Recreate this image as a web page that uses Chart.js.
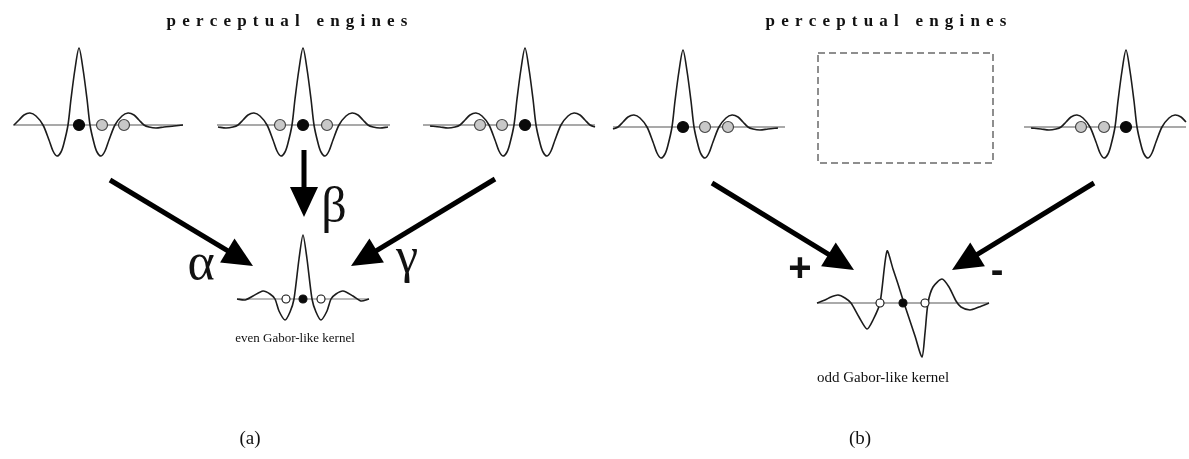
<!DOCTYPE html>
<html>
<head>
<meta charset="utf-8">
<style>
  html, body { margin: 0; padding: 0; background: #fff; overflow: hidden; }
  canvas { display: block; }
</style>
<script src="https://cdn.jsdelivr.net/npm/chart.js@4.4.1/dist/chart.umd.min.js"></script>
</head>
<body>
<canvas id="diagram" width="1189" height="459"></canvas>
<script>
// Response profile of one perceptual engine: offset from its peak, height above its baseline
const engineDx = [-104, -95, -85, -77, -70, -65, -60, -55, -49, -43, -36, -30, -26, -22, -18, -15, -11, -8, -4, 0, 4, 8, 11, 15, 18, 22, 26, 30, 36, 43, 49, 55, 60, 65, 70, 77, 85, 95, 104];
const engineDy = [0, -1, -2, -3, -2, 0, 5, 10, 12, 9, 0, -15, -26, -31, -27, -18, 0, 26, 56, 77, 56, 26, 0, -18, -27, -31, -26, -15, 0, 9, 12, 10, 5, 0, -2, -3, -2, -1, 0];

// Even Gabor-like kernel (alpha, beta, gamma combination)
const evenDx = [-66, -58, -50, -40, -33, -28, -24, -18, -13, -9, -4, 0, 4, 9, 13, 18, 24, 28, 33, 40, 50, 58, 66];
const evenDy = [0, -1, 3, 8, 5, 0, -12, -21, -13, 0, 40, 64, 40, 0, -13, -21, -12, 0, 5, 8, 3, -2, 0];

// Odd Gabor-like kernel (+ / - combination)
const oddDx = [-86, -78, -72, -65, -58, -52, -44, -36, -30, -23, -16, -10, -5, 0, 6, 12, 19, 22, 25, 30, 39, 46, 53, 58, 67, 76, 86];
const oddDy = [0, 3, 6, 8, 5, 0, -14, -26, -17, 0, 52, 34, 19, 3, -15, -33, -54, -30, 0, 16, 24, 16, 2, -4, -7, -4, 0];

// Where each engine sits and which part of its profile is shown
const engineX     = [79, 303, 525, 683, 1126];
const engineBaseY = [125, 125, 125, 127, 127];
const engineFrom  = [-66, -86, -102, -70, -102];
const engineTo    = [104, 87, 70, 102, 60];
// Sampling nodes of each engine (offset 0 is the engine's own, filled node)
const engineNodes = [[0, 23, 45], [-23, 0, 24], [-45, -23, 0], [0, 22, 45], [-45, -22, 0]];

// Combined kernels
const evenX = 303, evenBaseY = 299, evenNodes = [-17, 0, 18];
const oddX = 903, oddBaseY = 303, oddNodes = [-23, 0, 22];

// Empty (suppressed) engine slot in panel (b)
const emptySlot = { left: 818, top: 53, right: 993, bottom: 163 };

// Arrows: tail and tip
const arrowTail = [[110, 180], [304, 150], [495, 179], [712, 183], [1094, 183]];
const arrowTip  = [[253, 266], [304, 217], [351, 266], [854, 270], [952, 270]];
const headLen = 30, headHalf = 14;

const serif = '"Liberation Serif", "Times New Roman", serif';
const sans = '"Liberation Sans", Arial, sans-serif';
const textItems = [
  { text: 'perceptual engines', x: 287, y: 26, font: 'bold 17px ' + serif, spacing: 6.2 },
  { text: 'perceptual engines', x: 886, y: 26, font: 'bold 17px ' + serif, spacing: 6.2 },
  { text: 'α', x: 201, y: 279, font: '52px ' + serif },
  { text: 'β', x: 334, y: 222, font: '50px ' + serif },
  { text: 'γ', x: 407, y: 272, font: '50px ' + serif },
  { text: '+', x: 800, y: 281, font: 'bold 40px ' + sans },
  { text: '-', x: 997, y: 283, font: 'bold 38px ' + sans },
  { text: 'even Gabor-like kernel', x: 295, y: 342, font: '13px ' + serif },
  { text: 'odd Gabor-like kernel', x: 883, y: 382, font: '15px ' + serif },
  { text: '(a)', x: 250, y: 444, font: '19px ' + serif },
  { text: '(b)', x: 860, y: 444, font: '19px ' + serif }
];

function curve(dx, dy, cx, baseY, from, to) {
  const pts = [];
  for (let i = 0; i < dx.length; i++) {
    if (dx[i] >= from && dx[i] <= to) pts.push({ x: cx + dx[i], y: baseY - dy[i] });
  }
  return pts;
}

const datasets = [];

// Engines of both panels
engineX.forEach((cx, i) => {
  const by = engineBaseY[i];
  datasets.push({
    data: [{ x: cx + engineFrom[i], y: by }, { x: cx + engineTo[i], y: by }],
    showLine: true, borderColor: '#555', borderWidth: 1.2, pointRadius: 0, order: 3
  });
  datasets.push({
    data: curve(engineDx, engineDy, cx, by, engineFrom[i], engineTo[i]),
    showLine: true, borderColor: '#1c1c1c', borderWidth: 1.6, tension: 0.3, pointRadius: 0, order: 2
  });
  const nodes = engineNodes[i];
  datasets.push({
    data: nodes.map(o => ({ x: cx + o, y: by })),
    showLine: false,
    pointRadius: 5.5,
    pointBackgroundColor: nodes.map(o => o === 0 ? '#0a0a0a' : '#c8c8c8'),
    pointBorderColor: nodes.map(o => o === 0 ? '#0a0a0a' : '#444'),
    pointBorderWidth: 1.2,
    order: 0
  });
});

// Combined kernels
[[evenDx, evenDy, evenX, evenBaseY, evenNodes, '#777', 1.2], [oddDx, oddDy, oddX, oddBaseY, oddNodes, '#aaa', 2]].forEach(k => {
  const [dx, dy, cx, by, nodes, baseColor, baseWidth] = k;
  datasets.push({
    data: [{ x: cx + dx[0], y: by }, { x: cx + dx[dx.length - 1], y: by }],
    showLine: true, borderColor: baseColor, borderWidth: baseWidth, pointRadius: 0, order: 3
  });
  datasets.push({
    data: curve(dx, dy, cx, by, -1e9, 1e9),
    showLine: true, borderColor: '#1c1c1c', borderWidth: 1.6, tension: 0.25, pointRadius: 0, order: 2
  });
  datasets.push({
    data: nodes.map(o => ({ x: cx + o, y: by })),
    showLine: false,
    pointRadius: 4,
    pointBackgroundColor: nodes.map(o => o === 0 ? '#0a0a0a' : '#ffffff'),
    pointBorderColor: '#111',
    pointBorderWidth: 1.1,
    order: 0
  });
});

// Dashed empty slot
datasets.push({
  data: [
    { x: emptySlot.left, y: emptySlot.top }, { x: emptySlot.right, y: emptySlot.top },
    { x: emptySlot.right, y: emptySlot.bottom }, { x: emptySlot.left, y: emptySlot.bottom },
    { x: emptySlot.left, y: emptySlot.top }
  ],
  showLine: true, borderColor: '#6a6a6a', borderWidth: 1.5, borderDash: [7, 4], pointRadius: 0, order: 3
});

// Arrow shafts (stop at the base of the head)
arrowTail.forEach((t, i) => {
  const p = arrowTip[i];
  const len = Math.hypot(p[0] - t[0], p[1] - t[1]);
  const ux = (p[0] - t[0]) / len, uy = (p[1] - t[1]) / len;
  datasets.push({
    data: [{ x: t[0], y: t[1] }, { x: p[0] - ux * headLen * 0.8, y: p[1] - uy * headLen * 0.8 }],
    showLine: true, borderColor: '#000', borderWidth: 5, borderCapStyle: 'butt', pointRadius: 0, order: 1
  });
});

const arrowHeads = {
  id: 'arrowHeads',
  afterDatasetsDraw(chart) {
    const { ctx, scales: { x, y } } = chart;
    ctx.save();
    ctx.fillStyle = '#000';
    arrowTail.forEach((t, i) => {
      const tx = x.getPixelForValue(arrowTip[i][0]), ty = y.getPixelForValue(arrowTip[i][1]);
      const sx = x.getPixelForValue(t[0]), sy = y.getPixelForValue(t[1]);
      const len = Math.hypot(tx - sx, ty - sy);
      const ux = (tx - sx) / len, uy = (ty - sy) / len;
      const bx = tx - ux * headLen, by = ty - uy * headLen;
      ctx.beginPath();
      ctx.moveTo(tx, ty);
      ctx.lineTo(bx - uy * headHalf, by + ux * headHalf);
      ctx.lineTo(bx + uy * headHalf, by - ux * headHalf);
      ctx.closePath();
      ctx.fill();
    });
    ctx.restore();
  }
};

const textLabels = {
  id: 'textLabels',
  afterDatasetsDraw(chart) {
    const { ctx, scales: { x, y } } = chart;
    ctx.save();
    ctx.fillStyle = '#111';
    ctx.textBaseline = 'alphabetic';
    textItems.forEach(t => {
      ctx.font = t.font;
      const px = x.getPixelForValue(t.x), py = y.getPixelForValue(t.y);
      if (t.spacing) {
        const chars = Array.from(t.text);
        const widths = chars.map(c => ctx.measureText(c).width);
        const total = widths.reduce((a, b) => a + b, 0) + t.spacing * (chars.length - 1);
        let cx = px - total / 2;
        ctx.textAlign = 'left';
        chars.forEach((c, k) => { ctx.fillText(c, cx, py); cx += widths[k] + t.spacing; });
      } else {
        ctx.textAlign = 'center';
        ctx.fillText(t.text, px, py);
      }
    });
    ctx.restore();
  }
};

new Chart(document.getElementById('diagram'), {
  type: 'scatter',
  data: { datasets: datasets.map(d => Object.assign({ clip: false }, d)) },
  options: {
    responsive: false,
    animation: false,
    devicePixelRatio: 1,
    layout: { padding: 0, autoPadding: false },
    events: [],
    plugins: { legend: { display: false }, tooltip: { enabled: false } },
    scales: {
      x: { type: 'linear', min: 0, max: 1189, display: false },
      y: { type: 'linear', min: 0, max: 459, reverse: true, display: false }
    }
  },
  plugins: [arrowHeads, textLabels]
});
</script>
</body>
</html>
